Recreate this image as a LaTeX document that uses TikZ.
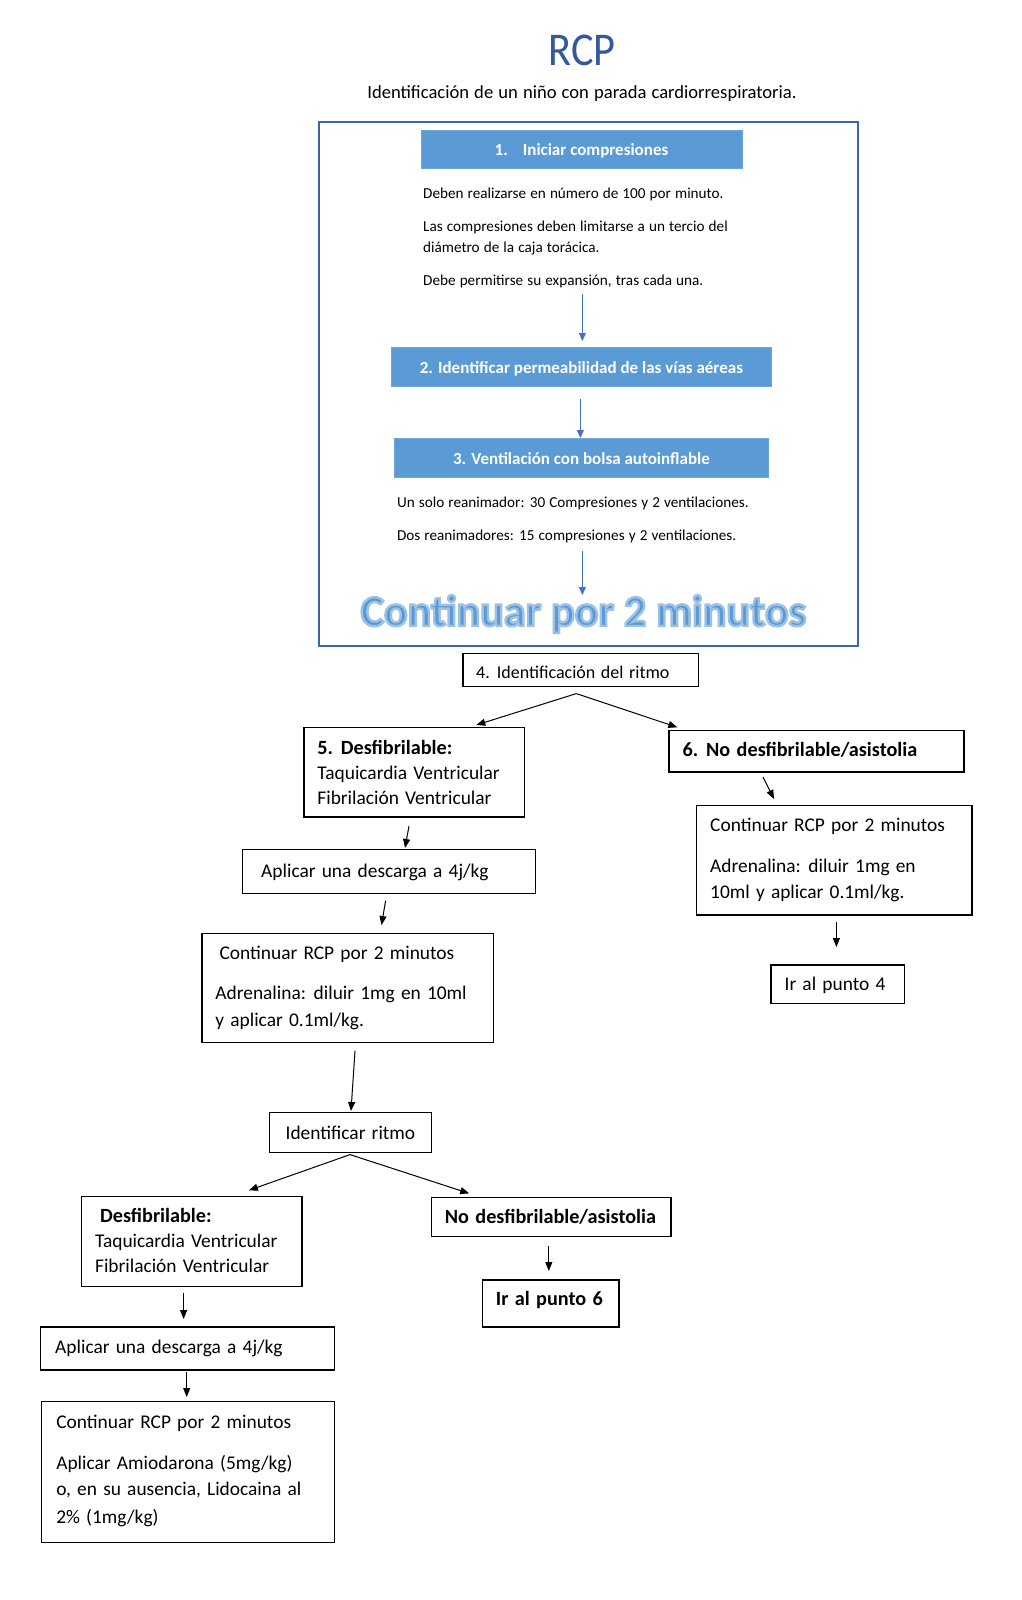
\documentclass[tikz,border=0pt]{standalone}
\usepackage{fontspec}
\setmainfont{Carlito}
\usetikzlibrary{arrows.meta,fit,calc}
\definecolor{hdr}{HTML}{5B9BD5}
\definecolor{hdrline}{HTML}{6FA6D8}
\definecolor{framec}{HTML}{3A66AA}
\definecolor{ttl}{HTML}{34589A}
\definecolor{arrblue}{HTML}{4472C4}
\newcommand{\bodyf}{\fontsize{19.4}{24}\selectfont\spaceskip=6.2pt\relax}
\newcommand{\boldf}{\fontsize{20.2}{24}\selectfont\bfseries\spaceskip=6.4pt\relax}
\newcommand{\smallf}{\fontsize{15.2}{19}\selectfont\spaceskip=4.1pt\relax}
\newcommand{\subf}{\fontsize{18.6}{22}\selectfont\spaceskip=5.1pt\relax}
\newcommand{\bfourf}{\fontsize{18}{20}\selectfont\spaceskip=5.6pt\relax}
\begin{document}
\begin{tikzpicture}[x=1pt,y=-1pt,
  box/.style={draw=black,line width=1.3pt,inner sep=0pt},
  hbox/.style={draw=hdrline,fill=hdr,line width=0.8pt,inner sep=0pt},
  txt/.style={inner sep=0pt,anchor=base west,font=\bodyf},
  btxt/.style={inner sep=0pt,anchor=base west,font=\boldf},
  stxt/.style={inner sep=0pt,anchor=base west,font=\smallf},
  htxt/.style={inner sep=0pt,anchor=base,font=\fontsize{17}{20}\selectfont\bfseries,text=white},
  arr/.style={draw=black,line width=1pt,-{Triangle[length=9pt,width=7pt]}},
  barr/.style={draw=arrblue,line width=1pt,-{Triangle[length=8pt,width=7pt]}}]
\useasboundingbox (0,0) rectangle (1021,1600);
\fill[white] (0,0) rectangle (1021,1600);

% title
\node[inner sep=0pt,anchor=base,xscale=0.9,font=\fontsize{47}{50}\selectfont,text=ttl] (title) at (582,66) {RCP};
\node[inner sep=0pt,anchor=base,font=\subf] (sub) at (582,99) {Identificación de un niño con parada cardiorrespiratoria.};

% outer frame
\node[draw=framec,line width=2pt,inner sep=0pt,fit={(319,122) (858,646)}] (frame) {};

% header 1
\node[hbox,fit={(421,130) (742,168)}] (h1) {};
\node[htxt] (h1t) at (581.5,155) {1.\hspace{15pt}Iniciar compresiones};
\node[stxt] (t1) at (423,198) {Deben realizarse en número de 100 por minuto.};
\node[stxt] (t2) at (423,231) {Las compresiones deben limitarse a un tercio del};
\node[stxt] (t3) at (423,252) {diámetro de la caja torácica.};
\node[stxt] (t4) at (423,285.5) {Debe permitirse su expansión, tras cada una.};
\coordinate (a1s) at (582.4,293.8);
\coordinate (a1e) at (582.4,341);

% header 2
\node[hbox,fit={(391.7,347.8) (771,386.6)}] (h2) {};
\node[htxt] (h2t) at (581.4,373) {2. Identificar permeabilidad de las vías aéreas};
\coordinate (a2s) at (580.4,398.8);
\coordinate (a2e) at (580.4,438);

% header 3
\node[hbox,fit={(394.7,438.6) (768,477.4)}] (h3) {};
\node[htxt] (h3t) at (581.4,464) {3. Ventilación con bolsa autoinflable};
\node[stxt] (t5) at (396.8,507) {Un solo reanimador: 30 Compresiones y 2 ventilaciones.};
\node[stxt] (t6) at (396.8,540.5) {Dos reanimadores: 15 compresiones y 2 ventilaciones.};
\coordinate (a3s) at (582.4,550.8);
\coordinate (a3e) at (582.4,595);

% continuar por 2 minutos (outlined)
\node[inner sep=0pt,anchor=base,font=\fontsize{44}{46}\selectfont\bfseries,text=hdr] (cont) at (583.4,626)
  {\special{pdf:code 2 Tr 2.4 w 0.62 0.76 0.90 RG}Continuar por 2 minutos\special{pdf:code 0 Tr 1 w}};

\draw[barr] (a1s) -- (a1e);
\draw[barr] (a2s) -- (a2e);
\draw[barr] (a3s) -- (a3e);

% box 4
\node[box,fit={(463,653.8) (698.7,686.5)}] (b4) {};
\node[txt,font=\bfourf] (b4t) at (476,678) {4. Identificación del ritmo};
\coordinate (f1) at (576.3,693.6);
\coordinate (f1l) at (476.3,725);
\coordinate (f1r) at (677.3,727.3);
\draw[arr] (f1) -- (f1l);
\draw[arr] (f1) -- (f1r);

% box 5
\node[box,fit={(304,727.3) (524.3,817)}] (b5) {};
\node[btxt] (b5a) at (317.2,754) {5. Desfibrilable:};
\node[txt] (b5b) at (317.2,779) {Taquicardia Ventricular};
\node[txt] (b5c) at (317.2,804) {Fibrilación Ventricular};

% box 6
\node[box,fit={(669,730.3) (964,772)}] (b6) {};
\node[btxt] (b6t) at (682.4,756) {6. No desfibrilable/asistolia};

% left branch
\coordinate (a5s) at (409,826);
\coordinate (a5e) at (405,848);
\draw[arr] (a5s) -- (a5e);
\node[box,fit={(242.8,849.7) (535.5,893.5)}] (A1) {};
\node[txt] (A1t) at (261,877) {Aplicar una descarga a 4j/kg};
\coordinate (a6s) at (385.6,900.7);
\coordinate (a6e) at (381.5,925);
\draw[arr] (a6s) -- (a6e);
\node[box,fit={(202,933.3) (493.7,1042.4)}] (C1) {};
\node[txt] (C1a) at (219.3,959) {Continuar RCP por 2 minutos};
\node[txt] (C1b) at (215.2,999.5) {Adrenalina: diluir 1mg en 10ml};
\node[txt] (C1c) at (215.2,1026) {y aplicar 0.1ml/kg.};
\coordinate (a7s) at (355,1050.6);
\coordinate (a7e) at (351,1111);
\draw[arr] (a7s) -- (a7e);

\node[box,fit={(269.3,1112.8) (431.5,1152.6)}] (IR) {};
\node[txt,anchor=base] (IRt) at (350.4,1139) {Identificar ritmo};
\coordinate (f2) at (350,1154.6);
\coordinate (f2l) at (248.9,1190.3);
\coordinate (f2r) at (469.2,1193.4);
\draw[arr] (f2) -- (f2l);
\draw[arr] (f2) -- (f2r);

\node[box,fit={(81.6,1196.5) (302,1286.2)}] (D2) {};
\node[btxt] (D2a) at (100,1222) {Desfibrilable:};
\node[txt] (D2b) at (94.9,1247.5) {Taquicardia Ventricular};
\node[txt] (D2c) at (94.9,1272) {Fibrilación Ventricular};

\node[box,fit={(431.5,1197.5) (671,1236.2)}] (ND2) {};
\node[btxt] (ND2t) at (444.7,1223) {No desfibrilable/asistolia};
\coordinate (a8s) at (548.8,1246.4);
\coordinate (a8e) at (548.8,1271);
\draw[arr] (a8s) -- (a8e);
\node[box,fit={(482.5,1280) (619,1327)}] (IR6) {};
\node[btxt] (IR6t) at (495.7,1305.5) {Ir al punto 6};

\coordinate (a9s) at (183.6,1293.4);
\coordinate (a9e) at (183.6,1319);
\draw[arr] (a9s) -- (a9e);
\node[box,fit={(40.8,1327) (334.6,1369.9)}] (A2) {};
\node[txt] (A2t) at (55,1353.5) {Aplicar una descarga a 4j/kg};
\coordinate (a10s) at (186.7,1372);
\coordinate (a10e) at (186.7,1397);
\draw[arr] (a10s) -- (a10e);
\node[box,fit={(41.8,1401.5) (334.6,1542.2)}] (F) {};
\node[txt] (Fa) at (56.1,1428) {Continuar RCP por 2 minutos};
\node[txt] (Fb) at (56.1,1469) {Aplicar Amiodarona (5mg/kg)};
\node[txt] (Fc) at (56.1,1495.5) {o, en su ausencia, Lidocaina al};
\node[txt] (Fd) at (56.1,1523) {2\% (1mg/kg)};

% right branch
\coordinate (a11s) at (763,777);
\coordinate (a11e) at (774,799);
\draw[arr] (a11s) -- (a11e);
\node[box,fit={(696.7,805.8) (972,915)}] (C6) {};
\node[txt] (C6a) at (710,831.5) {Continuar RCP por 2 minutos};
\node[txt] (C6b) at (710,872) {Adrenalina: diluir 1mg en};
\node[txt] (C6c) at (710,898.5) {10ml y aplicar 0.1ml/kg.};
\coordinate (a12s) at (836.4,922);
\coordinate (a12e) at (836.4,947);
\draw[arr] (a12s) -- (a12e);
\node[box,fit={(771,965) (904.7,1003.7)}] (IR4) {};
\node[txt] (IR4t) at (784.4,990.5) {Ir al punto 4};
\end{tikzpicture}
\end{document}
